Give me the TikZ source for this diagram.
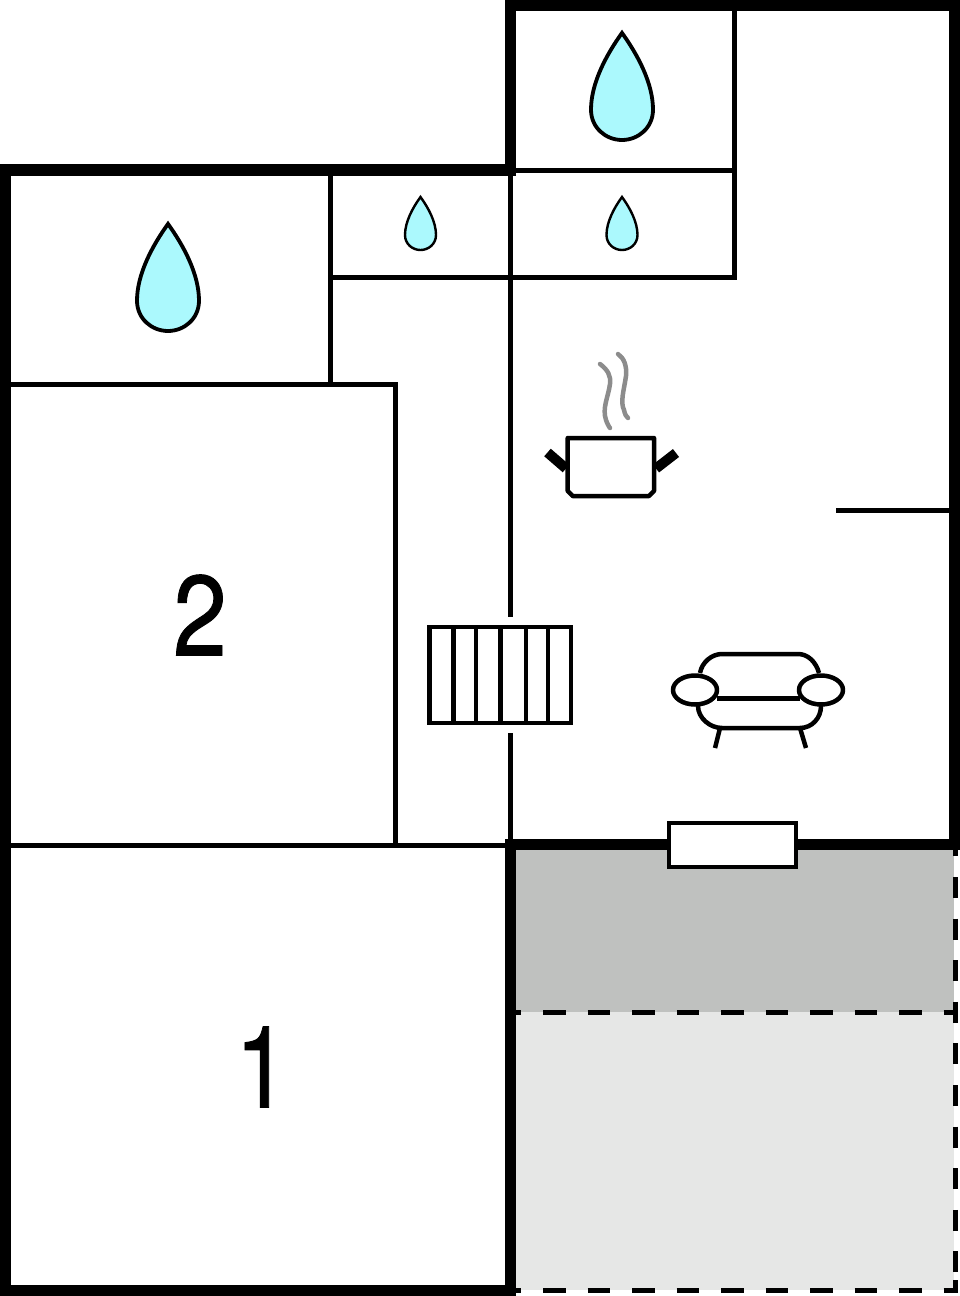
\documentclass[tikz,border=0pt]{standalone}
\usepackage{fontspec}
\setmainfont{TeX Gyre Heros}
\newfontfamily\numfont[FakeBold=0.8]{TeX Gyre Heros}
\definecolor{dropblue}{HTML}{ABF9FD}
\definecolor{coverdark}{HTML}{BFC1BF}
\definecolor{coverlight}{HTML}{E6E7E6}
\definecolor{steamgrey}{HTML}{8C8C8C}
\tikzset{
  x=1pt,y=-1pt,
  heavywall/.style={line width=10.7pt,line cap=butt},
  thinwall/.style={line width=5pt,line cap=butt},
  dashline/.style={line width=5pt,dash pattern=on 22.7pt off 21.8pt},
  dashlinev/.style={line width=5pt,dash pattern=on 21pt off 20.6pt},
  icon/.style={line width=4.5pt,line join=round},
  steam/.style={line width=4.5pt,steamgrey,line cap=round},
  numeral/.style={font=\numfont\fontsize{114}{114}\selectfont,inner sep=0pt,anchor=center},
  drop/.pic={
    \path[pic actions,fill=dropblue,draw=black,line join=miter]
      (0,-53) .. controls (-8,-42) and (-15.5,-28) .. (-15.5,-15)
      .. controls (-15.5,-6) and (-8,0) .. (0,0)
      .. controls (8,0) and (15.5,-6) .. (15.5,-15)
      .. controls (15.5,-28) and (8,-42) .. (0,-53) -- cycle;
  }
}
\begin{document}
\begin{tikzpicture}
\useasboundingbox (0,0) rectangle (960,1296);
% covered terrace
\fill[coverdark] (516,850) rectangle (954,1012);
\fill[coverlight] (516,1012) rectangle (954,1290);
\draw[dashline,dash phase=17.5pt] (516,1012) -- (954,1012);
\draw[dashline,dash phase=17.5pt] (516,1290) -- (954,1290);
\draw[dashlinev,dash phase=0pt] (955,877) -- (955,1291);
\draw[line width=5pt] (944,1012) -- (957.5,1012) (955,1002) -- (955,1014.5);
\draw[line width=5pt] (944,1290) -- (957.5,1290) (955,1280) -- (955,1292.5);
\draw[line width=5pt] (955,850) -- (955,856);
% thin walls
\draw[thinwall] (330,175) -- (330,386);
\draw[thinwall] (10,384.5) -- (397.5,384.5);
\draw[thinwall] (395,384) -- (395,845);
\draw[thinwall] (10,845) -- (510,845);
\draw[thinwall] (510,171) -- (510,617);
\draw[thinwall] (510,733) -- (510,845);
\draw[thinwall] (330,277.5) -- (736.5,277.5);
\draw[thinwall] (734,10) -- (734,280);
\draw[thinwall] (514,170) -- (734,170);
\draw[thinwall] (836,510.5) -- (950,510.5);
% heavy walls
\draw[heavywall,line width=12pt] (516,170) -- (0,170);
\draw[heavywall] (5.3,164) -- (5.3,1296);
\draw[heavywall] (0,1290.7) -- (516,1290.7);
\draw[heavywall] (510.5,839) -- (510.5,1296);
\draw[heavywall] (510.5,176) -- (510.5,0);
\draw[heavywall] (505,5.3) -- (960,5.3);
\draw[heavywall] (954.7,0) -- (954.7,850);
\draw[heavywall] (960,844.5) -- (505,844.5);
% window
\draw[line width=4.5pt,fill=white] (669,823) rectangle (796,867);
% stairs
\draw[line width=4.5pt,fill=white] (429.5,627) rectangle (571,723);
\foreach \sx in {453.3,476,500.7,526,548}
  \draw[line width=4.5pt] (\sx,627) -- (\sx,723);
% drops
\pic[line width=3.8pt,xscale=2,yscale=2.02] at (622,140) {drop};
\pic[line width=3.8pt,xscale=2,yscale=2.02] at (168,331) {drop};
\pic[line width=2.4pt] at (420.5,250) {drop};
\pic[line width=2.4pt] at (622,250) {drop};
% pot
\draw[icon,fill=white] (567.7,438) -- (654,438) -- (654,491) -- (649,496) -- (572.7,496) -- (567.7,491) -- cycle;
\draw[line width=10pt] (566,468.5) -- (547.5,452.5);
\draw[line width=10pt] (656,468.5) -- (676,453);
\draw[steam] (600,364) .. controls (608,370) and (611,376) .. (610,384) .. controls (608,398) and (602,408) .. (606,420) .. controls (607,423) and (609,427) .. (610,428);
\draw[steam] (618,354) .. controls (624,358) and (627,366) .. (626,376) .. controls (624,390) and (620,402) .. (624,410) .. controls (625,414) and (626,417) .. (628,418);
% armchair
\draw[icon] (700,673) .. controls (702,662) and (712,654) .. (722,654) -- (798,654) .. controls (808,654) and (816,662) .. (819,673);
\draw[icon] (698,706) .. controls (698,718) and (710,728) .. (722,728) -- (800,728) .. controls (812,728) and (821,718) .. (821,706);
\draw[line width=5pt] (717,698) -- (800,698);
\draw[icon,fill=white] (695,690) ellipse [x radius=22,y radius=14.5];
\draw[icon,fill=white] (821,690) ellipse [x radius=22,y radius=14.5];
\draw[icon] (720,728) -- (715,748);
\draw[icon] (800,728) -- (806,748);
% room numbers
\node[numeral] (roomtwo) at (200,615) {\scalebox{0.85}[1]{2}};
\node[numeral] (roomone) at (262,1067) {\scalebox{0.85}[1]{1}};
\end{tikzpicture}
\end{document}
